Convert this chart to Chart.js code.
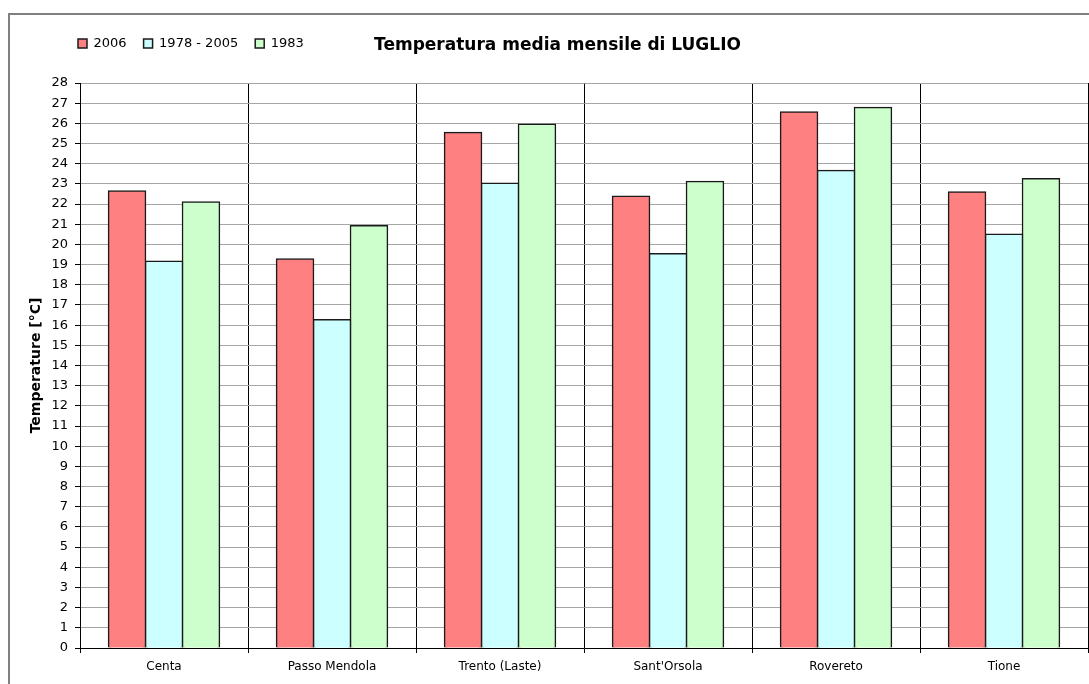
<!DOCTYPE html>
<html>
<head>
<meta charset="utf-8">
<script src="https://cdn.jsdelivr.net/npm/chart.js@4/dist/chart.umd.min.js"></script>
<style>
html,body{margin:0;padding:0;background:#fff;}
#wrap{width:1089px;height:684px;position:relative;}
</style>
</head>
<body>
<div id="wrap"><canvas id="c" width="1089" height="684"></canvas></div>
<script>
const categories = ["Centa", "Passo Mendola", "Trento (Laste)", "Sant'Orsola", "Rovereto", "Tione"];
const seriesNames = ["2006", "1978 - 2005", "1983"];
const values2006 = [22.65, 19.28, 25.55, 22.38, 26.56, 22.59];
const values1978_2005 = [19.17, 16.26, 23.03, 19.53, 23.66, 20.50];
const values1983 = [22.10, 20.92, 25.95, 23.11, 26.78, 23.25];
const yTickMin = 0, yTickMax = 28, yTickStep = 1;
const chartTitle = "Temperatura media mensile di LUGLIO";
const yAxisTitle = "Temperature [°C]";

const FONT = "'DejaVu Sans', Verdana, sans-serif";

const framePlugin = {
  id: 'frame',
  beforeDraw(chart) {
    const ctx = chart.ctx;
    ctx.save();
    ctx.fillStyle = '#fff';
    ctx.fillRect(0, 0, chart.width, chart.height);
    ctx.strokeStyle = '#808080';
    ctx.lineWidth = 2;
    ctx.strokeRect(9, 14, 1200, 800);
    ctx.restore();
  },
  afterLayout(chart) {
    const lg = chart.legend;
    if (lg) {
      const h = lg.height;
      lg.left = 61; lg.right = 61 + 700;
      lg.top = 20; lg.bottom = lg.top + h;
    }
    const tb = chart.titleBlock;
    if (tb) {
      const h = tb.height;
      tb.left = 557.5 - 400; tb.right = 557.5 + 400;
      tb.top = 45.5 - 10 - 10.2; tb.bottom = tb.top + h;
    }
  }
};

const mk = (label, data, color) => ({
  label, data,
  backgroundColor: color,
  borderColor: '#1a1a1a',
  borderWidth: 1.5,
  inflateAmount: 0.8,
  categoryPercentage: 0.66,
  barPercentage: 1.0
});

new Chart(document.getElementById('c'), {
  type: 'bar',
  data: {
    labels: categories,
    datasets: [
      mk(seriesNames[0], values2006, '#FF8080'),
      mk(seriesNames[1], values1978_2005, '#CCFFFF'),
      mk(seriesNames[2], values1983, '#CCFFCC')
    ]
  },
  plugins: [framePlugin],
  options: {
    responsive: false,
    animation: false,
    devicePixelRatio: 1,
    layout: { padding: { left: 0, right: 1, top: 0, bottom: 0 } },
    plugins: {
      tooltip: { enabled: false },
      title: {
        display: true,
        text: chartTitle,
        color: '#000',
        font: { family: FONT, size: 17, weight: 'bold' },
        padding: { top: 10, bottom: 12.6 }
      },
      legend: {
        display: true,
        position: 'top',
        align: 'start',
        labels: {
          boxWidth: 9,
          boxHeight: 9,
          padding: 17,
          color: '#000',
          font: { family: FONT, size: 13 }
        }
      }
    },
    scales: {
      x: {
        offset: true,
        grid: {
          offset: true,
          display: true,
          color: '#000',
          lineWidth: 1,
          drawTicks: true,
          tickLength: 5,
          tickColor: '#000'
        },
        border: { display: true, color: '#000', width: 1 },
        ticks: {
          color: '#000',
          padding: 7,
          maxRotation: 0,
          autoSkip: false,
          font: { family: FONT, size: 12 }
        },
        afterFit(scale) { scale.height = 36; }
      },
      y: {
        min: yTickMin,
        max: yTickMax,
        ticks: {
          stepSize: yTickStep,
          autoSkip: false,
          color: '#000',
          padding: 7,
          font: { family: FONT, size: 13 }
        },
        grid: {
          color: '#a6a6a6',
          lineWidth: 1,
          drawTicks: true,
          tickLength: 5,
          tickColor: '#000'
        },
        border: { display: true, color: '#000', width: 1 },
        title: {
          display: true,
          text: yAxisTitle,
          color: '#000',
          font: { family: FONT, size: 14, weight: 'bold' },
          padding: { top: 28, bottom: 0 }
        },
        afterFit(scale) { scale.width = 80; }
      }
    }
  }
});
</script>
</body>
</html>
